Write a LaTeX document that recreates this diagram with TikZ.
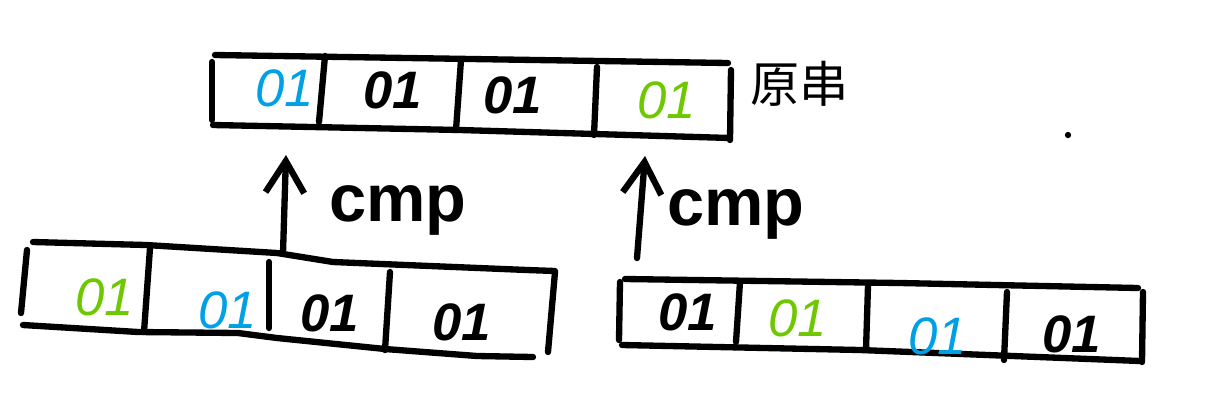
\documentclass[tikz,border=0pt]{standalone}
\usepackage{fontspec}
\setmainfont{Liberation Sans}
\newfontfamily\cjkfont{Noto Sans CJK SC}
\usetikzlibrary{arrows.meta}

\definecolor{bitblue}{RGB}{0,160,230}
\definecolor{bitgreen}{RGB}{110,200,0}

\tikzset{
  pen/.style={line width=3.6pt, line cap=round, line join=round},
  bit/.style={inner sep=0pt, font=\fontsize{30}{30}\selectfont\itshape},
  blackbit/.style={bit, font=\fontsize{30}{30}\selectfont\bfseries\itshape},
  cmplabel/.style={inner sep=0pt, font=\fontsize{38}{38}\selectfont\bfseries},
  cmparrow/.style={pen, -{Straight Barb[length=18pt,width=22pt,line width=3.6pt]}},
}

\begin{document}
\begin{tikzpicture}[x=0.02cm, y=-0.02cm]
  \useasboundingbox (0,0) rectangle (1215,407);

  % the original string
  \draw[pen] (215,55) -- (728,63);
  \draw[pen] (213,125) -- (460,130) -- (730,138);
  \draw[pen] (212,62) -- (212,120);
  \draw[pen] (325,56) -- (319,122);
  \draw[pen] (461,60) -- (456,130);
  \draw[pen] (597,67) -- (594,135);
  \draw[pen] (731,70) -- (730,140);

  \node[bit, text=bitblue]   (o1) at (285,88)  {01};
  \node[blackbit]            (o2) at (393,90)  {01};
  \node[blackbit]            (o3) at (513,95)  {01};
  \node[bit, text=bitgreen]  (o4) at (667,100) {01};
  \node[anchor=west, inner sep=0pt, font=\cjkfont\fontsize{28}{28}\selectfont] (orig) at (750,84) {原串};
  \fill (1068,135) circle (1.8pt);

  % left copy
  \draw[pen] (33,242) -- (146,245) -- (277,253) -- (333,262) -- (527,270) -- (555,271);
  \draw[pen] (23,325) -- (138,332) -- (238,333) -- (277,338) -- (385,349) -- (477,356) -- (533,357);
  \draw[pen] (27,250) -- (21,313);
  \draw[pen] (150,248) -- (144,332);
  \draw[pen] (269,262) -- (269,328);
  \draw[pen] (390,272) -- (385,350);
  \draw[pen] (555,272) -- (548,352);

  \node[bit, text=bitgreen]  (l1) at (105,297) {01};
  \node[bit, text=bitblue]   (l2) at (228,310) {01};
  \node[blackbit]            (l3) at (330,313) {01};
  \node[blackbit]            (l4) at (462,322) {01};

  % right copy
  \draw[pen] (625,279) -- (900,283) -- (1138,288);
  \draw[pen] (622,345) -- (860,350) -- (1140,361);
  \draw[pen] (620,282) -- (619,340);
  \draw[pen] (740,282) -- (736,342);
  \draw[pen] (868,286) -- (866,350);
  \draw[pen] (1007,292) -- (1004,360);
  \draw[pen] (1143,292) -- (1142,362);

  \node[blackbit]            (r1) at (688,312) {01};
  \node[bit, text=bitgreen]  (r2) at (798,318) {01};
  \node[bit, text=bitblue]   (r3) at (938,336) {01};
  \node[blackbit]            (r4) at (1072,334) {01};

  % comparisons
  \coordinate (a1s) at (283,253);
  \coordinate (a1e) at (286,155);
  \coordinate (a2s) at (637,258);
  \coordinate (a2e) at (645,156);
  \draw[cmparrow] (a1s) -- (a1e);
  \draw[cmparrow] (a2s) -- (a2e);
  \node[cmplabel] (c1) at (398,210) {cmp};
  \node[cmplabel] (c2) at (736,214) {cmp};

\end{tikzpicture}
\end{document}
